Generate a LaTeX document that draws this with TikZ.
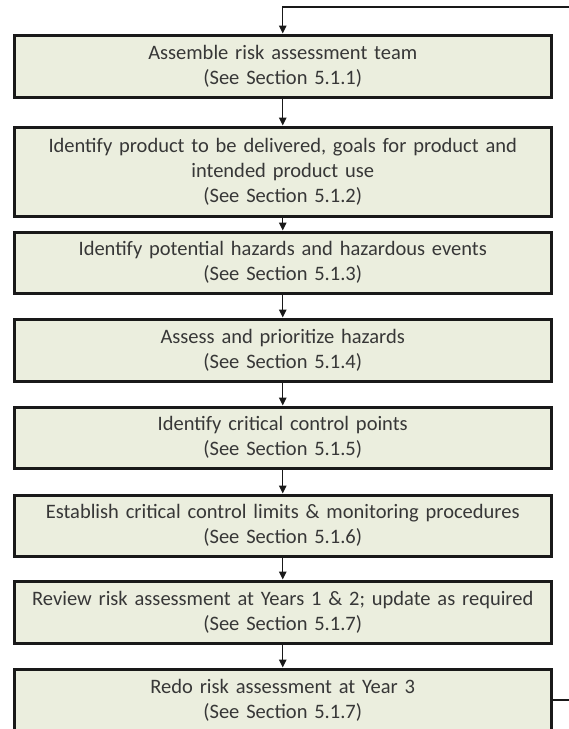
\documentclass[tikz,border=0pt]{standalone}
\usepackage{fontspec}
\setmainfont{Carlito}
\usetikzlibrary{arrows.meta}
\definecolor{stagefill}{RGB}{235,238,222}
\definecolor{stagetext}{RGB}{55,55,55}
\definecolor{stageline}{RGB}{25,25,25}
\begin{document}
\begin{tikzpicture}[x=1pt,y=-1pt,
    stage/.style={draw=stageline,line width=3pt,fill=stagefill,text=stagetext,
      minimum width=537.5pt,text width=530pt,align=center,inner sep=0pt,
      font=\fontsize{20.5}{25}\selectfont},
    flow/.style={-{Triangle[length=8pt,width=7.5pt]},line width=1.3pt,draw=stageline}]
  \useasboundingbox (0,0) rectangle (569,729);
  \clip (0,0) rectangle (569,729);

  \node[stage,minimum height=62pt] (s1) at (282.75,66)
    {Assemble risk assessment team\\(See Section 5.1.1)};
  \node[stage,minimum height=89pt] (s2) at (282.75,171.5)
    {Identify product to be delivered, goals for product and\\intended product use\\(See Section 5.1.2)};
  \node[stage,minimum height=61pt] (s3) at (282.75,262.5)
    {Identify potential hazards and hazardous events\\(See Section 5.1.3)};
  \node[stage,minimum height=62pt] (s4) at (282.75,350)
    {Assess and prioritize hazards\\(See Section 5.1.4)};
  \node[stage,minimum height=61pt] (s5) at (282.75,437.5)
    {Identify critical control points\\(See Section 5.1.5)};
  \node[stage,minimum height=61pt] (s6) at (282.75,525.5)
    {Establish critical control limits \& monitoring procedures\\(See Section 5.1.6)};
  \node[stage,minimum height=62pt] (s7) at (282.75,612)
    {Review risk assessment at Years 1 \& 2; update as required\\(See Section 5.1.7)};
  \node[stage,minimum height=62pt] (s8) at (282.75,700)
    {Redo risk assessment at Year 3\\(See Section 5.1.7)};

  % steps
  \foreach \a/\b in {s1/s2,s2/s3,s3/s4,s4/s5,s5/s6,s6/s7,s7/s8}
    \draw[flow] (\a) -- (\b);

  % loop back to the top
  \coordinate (loopin) at (569,7);
  \coordinate (loopout) at (569,700);
  \draw[flow] (loopin) -| (s1.north);
  \draw[line width=1.3pt,draw=stageline] (s8.east) -- (loopout);
\end{tikzpicture}
\end{document}
